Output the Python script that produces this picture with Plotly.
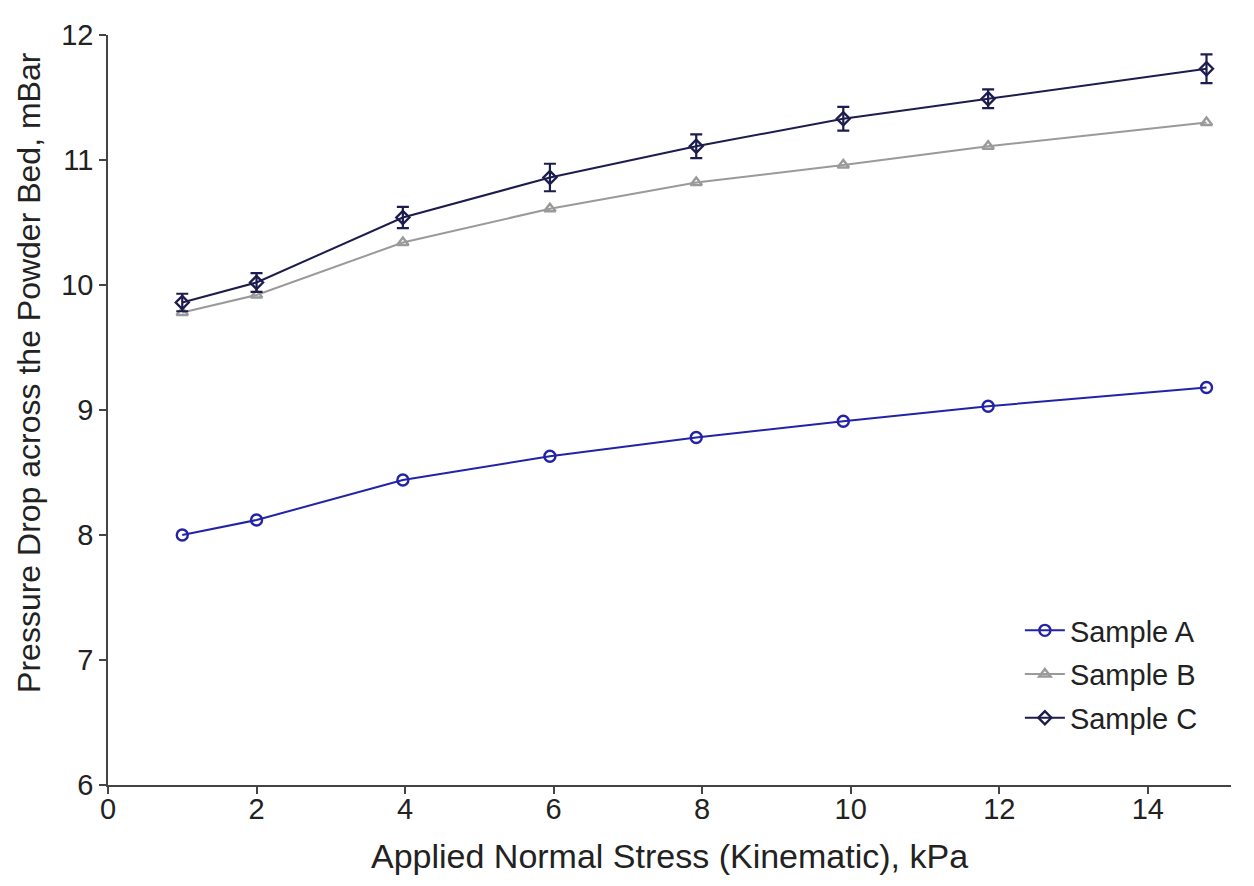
import plotly.graph_objects as go

stress = [1.0, 2.0, 3.97, 5.95, 7.92, 9.9, 11.85, 14.79]
sample_a = [8.00, 8.12, 8.44, 8.63, 8.78, 8.91, 9.03, 9.18]
sample_b = [9.78, 9.92, 10.34, 10.61, 10.82, 10.96, 11.11, 11.30]
sample_c = [9.86, 10.02, 10.54, 10.86, 11.11, 11.33, 11.49, 11.73]
err_c = [0.07, 0.075, 0.085, 0.11, 0.095, 0.095, 0.075, 0.115]

x_ticks = [0, 2, 4, 6, 8, 10, 12, 14]
y_ticks = [6, 7, 8, 9, 10, 11, 12]
x_title = "Applied Normal Stress (Kinematic), kPa"
y_title = "Pressure Drop across the Powder Bed, mBar"

series = [
    ("Sample A", sample_a, None, "#2323a8", "circle-open", 11),
    ("Sample B", sample_b, None, "#9a9a9a", "triangle-up-open", 10),
    ("Sample C", sample_c, err_c, "#1c1c4e", "diamond-open", 10),
]

fig = go.Figure()
for name, ys, errs, color, sym, size in series:
    kw = {}
    if errs is not None:
        kw["error_y"] = dict(type="data", array=errs, visible=True, color=color, thickness=2.2, width=6)
    fig.add_trace(go.Scatter(
        x=stress, y=ys, name=name, mode="lines+markers", legendgroup=name,
        line=dict(color=color, width=2),
        marker=dict(symbol=sym, size=size, color=color, line=dict(width=2.4, color=color)),
        **kw,
    ))

fig.add_annotation(
    text=y_title, textangle=-90, xref="paper", yref="paper",
    x=-0.07, y=0.55, xanchor="center", yanchor="middle", showarrow=False,
    font=dict(size=32, color="#222222"),
)

fig.update_layout(
    width=1254, height=886,
    margin=dict(l=100, r=31, t=27, b=109),
    paper_bgcolor="white", plot_bgcolor="white",
    font=dict(family="Liberation Sans, Arial, sans-serif", size=29, color="#222222"),
    xaxis=dict(
        range=[0, 15.12], tickvals=x_ticks, ticks="outside", ticklen=7, tickwidth=1.5,
        tickcolor="#444444", showline=True, linecolor="#444444", linewidth=1.5,
        showgrid=False, zeroline=False, ticklabelstandoff=-10,
        title=dict(text=x_title, font=dict(size=34), standoff=21),
        tickfont=dict(size=29),
    ),
    yaxis=dict(
        range=[6, 12], tickvals=y_ticks, ticks="outside", ticklen=7, tickwidth=1.5,
        tickcolor="#444444", showline=True, linecolor="#444444", linewidth=1.5,
        showgrid=False, zeroline=False,
        tickfont=dict(size=29),
    ),
    legend=dict(
        x=0.812, y=0.24, xanchor="left", yanchor="top",
        font=dict(size=29, color="#222222"), bgcolor="rgba(0,0,0,0)",
        itemwidth=40, tracegroupgap=3, traceorder="grouped",
    ),
)

fig.write_html("out.html")
